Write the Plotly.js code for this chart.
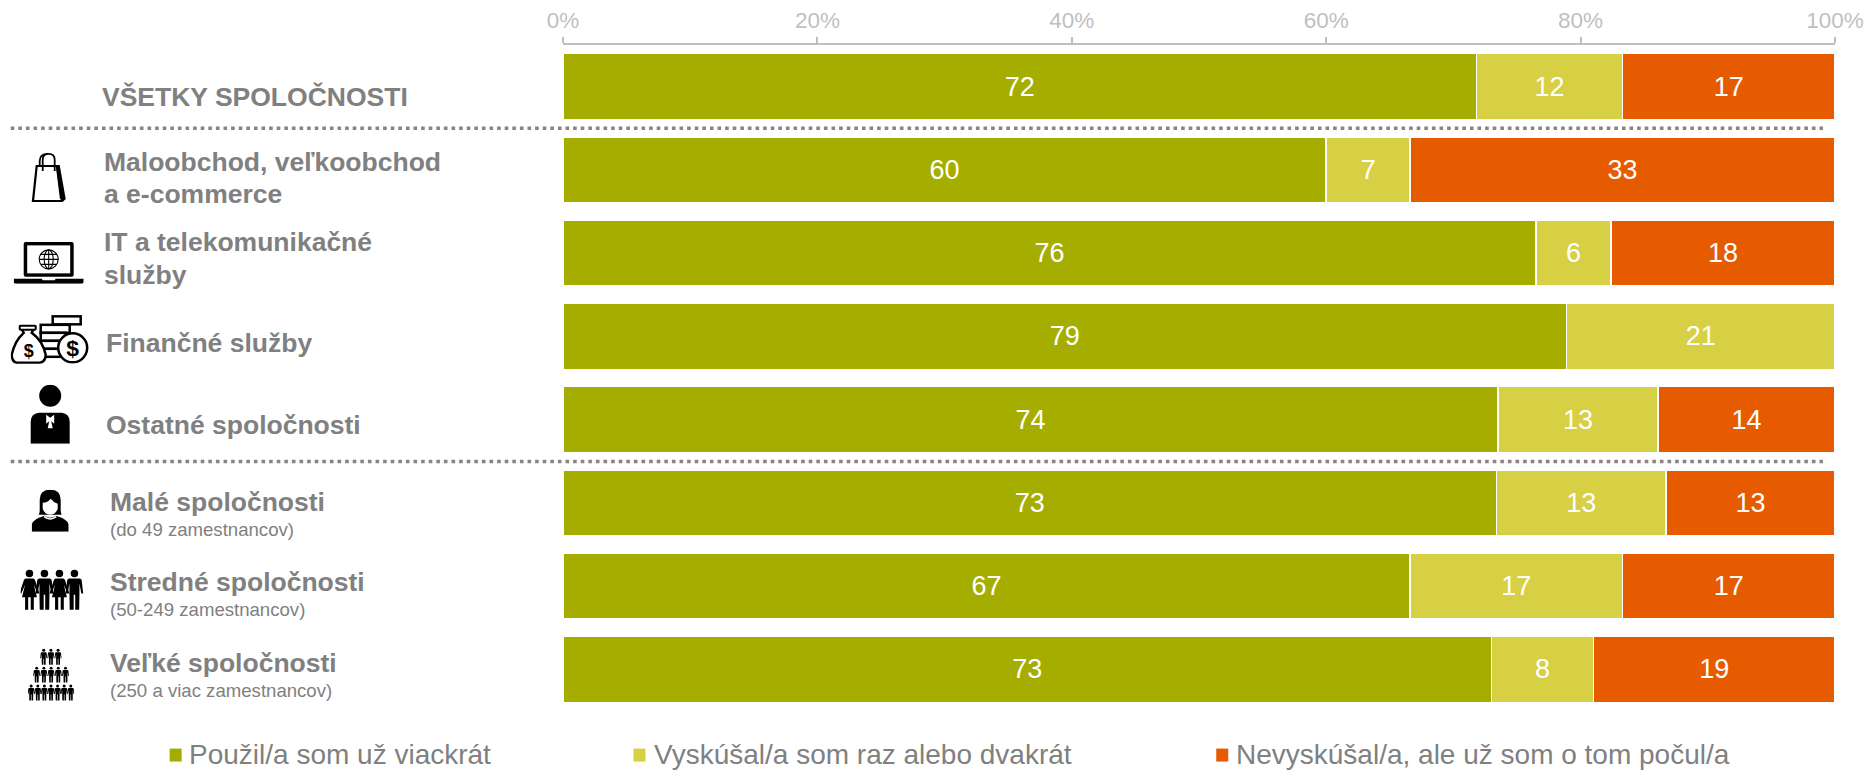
<!DOCTYPE html>
<html><head><meta charset="utf-8">
<script src="https://cdn.plot.ly/plotly-3.0.1.min.js"></script>
<style>html,body{margin:0;padding:0;background:#fff}#c{width:1868px;height:770px}</style>
</head><body><div id="c"></div>
<script>
const categories=['Všetky','Maloobchod','IT','Finančné','Ostatné','Malé','Stredné','Veľké'];
const seriesNames=['Použil/a som už viackrát','Vyskúšal/a som raz alebo dvakrát','Nevyskúšal/a, ale už som o tom počul/a'];
const colors=['#A5AD00','#D7CF44','#E65A00'];
const used=[71.8,60.0,76.5,78.9,73.5,73.4,66.6,73.0];
const tried=[11.5,6.6,5.9,21.1,12.6,13.3,16.7,8.0];
const heard=[16.7,33.4,17.6,null,13.9,13.3,16.7,19.0];
const usedLabels=['72','60','76','79','74','73','67','73'];
const triedLabels=['12','7','6','21','13','13','17','8'];
const heardLabels=['17','33','18','','14','13','17','19'];
const tickValues=[0,20,40,60,80,100];
const tickLabels=['0%','20%','40%','60%','80%','100%'];

const W=1868,H=770,L=562.5,R=33,T=45,B=58.6;
const pw=W-L-R,ph=H-T-B;
const px=x=>(x-L)/pw, py=y=>1-(y-T)/ph;
const GREY='#808080';

const rowTexts=[
 ['VŠETKY SPOLOČNOSTI',100,97,26.5,true],
 ['Maloobchod, veľkoobchod',102,162,26.5,true],
 ['a e-commerce',102,194,26.5,true],
 ['IT a telekomunikačné',102,242,26.5,true],
 ['služby',102,275,26.5,true],
 ['Finančné služby',104,343,26.5,true],
 ['Ostatné spoločnosti',104,425,26.5,true],
 ['Malé spoločnosti',108,502,26.5,true],
 ['(do 49 zamestnancov)',108,530,18.6,false],
 ['Stredné spoločnosti',108,582,26.5,true],
 ['(50-249 zamestnancov)',108,610,18.6,false],
 ['Veľké spoločnosti',108,663,26.5,true],
 ['(250 a viac zamestnancov)',108,691,18.6,false]
];
const legendX=[169,633,1216];
const legendTextX=[187,653,1235];

const trace=(vals,labels,i)=>({type:'bar',orientation:'h',name:seriesNames[i],y:categories,x:vals,
  text:labels,textposition:'inside',insidetextanchor:'middle',textangle:0,constraintext:'none',
  textfont:{family:'Liberation Sans, Arial, sans-serif',size:27,color:'#fff'},
  marker:{color:colors[i],line:{color:'#fff',width:1.5}},hoverinfo:'name+x'});
const data=[trace(used,usedLabels,0),trace(tried,triedLabels,1),trace(heard,heardLabels,2)];

const annotations=rowTexts.map(([t,x,y,s,b])=>({text:b?'<b>'+t+'</b>':t,xref:'paper',yref:'paper',x:px(x),y:py(y),
  xanchor:'left',yanchor:'middle',showarrow:false,align:'left',borderpad:0,
  font:{family:'Liberation Sans, Arial, sans-serif',size:s,color:GREY}}));
seriesNames.forEach((n,i)=>annotations.push({text:n,xref:'paper',yref:'paper',x:px(legendTextX[i]),y:py(755),
  xanchor:'left',yanchor:'middle',showarrow:false,borderpad:0,
  font:{family:'Liberation Sans, Arial, sans-serif',size:28,color:GREY}}));

const shapes=[128.3,461.7].map(y=>({type:'line',xref:'paper',yref:'paper',x0:px(10),x1:px(1823),y0:py(y),y1:py(y),
  line:{color:'#8C8280',width:3.4,dash:'3.6px,4px'}}));
legendX.forEach((x,i)=>shapes.push({type:'rect',xref:'paper',yref:'paper',x0:px(x),x1:px(x+12),y0:py(749),y1:py(762),
  fillcolor:colors[i],line:{width:0}}));

/* ---- decorative pictograms ---- */
const man=(x,y,s)=>`<g transform="translate(${x} ${y}) scale(${s})"><circle cx="5" cy="3" r="3"/><path d="M1 7h8q1.500 0 1.800 1.500L12 19h-1.500L9 11v8l-.2 13H5.600V20h-1.200v12H1.200L1 19V11L-.5 19H-2L-.8 8.500Q-.5 7 1 7z"/></g>`;
const lady=(x,y,s)=>`<g transform="translate(${x} ${y}) scale(${s})"><circle cx="5" cy="3" r="3"/><path d="M2 7h6q1 0 1.500 1.500L13 19h-1.500L8.500 12 11 22H8.500v10H6V22H4v10H1.500V22H-1l2.500-10L-1.500 19H-3L.5 8.500Q1 7 2 7z"/></g>`;
const svgs=[
 ['<svg xmlns="http://www.w3.org/2000/svg" viewBox="0 0 36 50"><path d="M5 12h24l6 34-3 3H1zM3.500 47h26.500l-4.500-33H7z" fill-rule="evenodd"/><path d="M26 14l4 32" stroke="#000" stroke-width="1.500"/><path d="M12 18V7q0-6 6-6t6 6v11M9 14V8q0-7 8-7" fill="none" stroke="#000" stroke-width="1.800"/></svg>',30,153,36,50],
 ['<svg xmlns="http://www.w3.org/2000/svg" viewBox="0 0 70 43"><rect x="10" y="1" width="50" height="35" rx="2"/><rect x="13.500" y="4.500" width="43" height="28" fill="#fff"/><g fill="none" stroke="#000" stroke-width="1.100"><circle cx="35" cy="18.500" r="9.500"/><ellipse cx="35" cy="18.500" rx="4.500" ry="9.500"/><path d="M35 9v19M25.500 18.500h19M27 13.500h16M27 23.500h16"/></g><path d="M0 38h28l1 1.500h12l1-1.500h28v3q0 2-2 2H2q-2 0-2-2z"/></svg>',13,241,70,43],
 ['<svg xmlns="http://www.w3.org/2000/svg" viewBox="0 0 79 49"><g fill="#fff" stroke="#000" stroke-width="2.500"><rect x="42" y="1.500" width="28" height="8"/><rect x="30" y="10" width="29" height="8"/><rect x="30" y="18" width="25" height="8"/><rect x="30" y="26" width="25" height="8"/><rect x="30" y="34" width="25" height="8"/><path d="M10 12h14l-3 6q11 8 14 22 0 7-6 8H6q-5-1-5-8 3-14 12-22z"/><circle cx="62" cy="33" r="14.500"/></g><rect x="9" y="11" width="16" height="4" rx="1" fill="#fff" stroke="#000" stroke-width="2"/><text x="18" y="42" font-family="Liberation Sans" font-size="18" font-weight="bold" text-anchor="middle">$</text><text x="62" y="41" font-family="Liberation Sans" font-size="23" font-weight="bold" text-anchor="middle">$</text></svg>',10,315,79,49],
 ['<svg xmlns="http://www.w3.org/2000/svg" viewBox="0 0 51 59"><circle cx="25.500" cy="11" r="11"/><path d="M14 28h23q8 1 8 9v22H6V37q0-8 8-9z"/><path d="M25.500 33l-4-3v9l3-2.500-1.500 7h5l-1.500-7 3 2.500v-9z" fill="#fff"/></svg>',24,385,51,59],
 ['<svg xmlns="http://www.w3.org/2000/svg" viewBox="0 0 37 42"><path d="M8 10q0-10 10.500-10T29 10v11q0 2 1 4H7q1-2 1-4z"/><path d="M11 13q5 0 8-4 3 4 7 5v5q-2 6-7.500 6T11 19z" fill="#fff"/><path d="M13 26q5.500 4 11 0 12 3 13 9v7H0v-7q1-6 13-9z"/><path d="M13 26q5.500 5 11 0l1 1.500q-6.500 5-13 0z" fill="#fff"/></svg>',31,490,37,42],
 ['<svg xmlns="http://www.w3.org/2000/svg" viewBox="-3 0 63 42" preserveAspectRatio="none">'+[0,1,2,3].map(i=>(i%2?man:lady)(i*15-.5,1,1.25)).join('')+'</svg>',20,569,63,42],
 ['<svg xmlns="http://www.w3.org/2000/svg" viewBox="0 0 47 53">'+
   [0,1,2].map(k=>man(13.500+k*7.200,0,.5)).join('')+
   [0,1,2,3,4].map(k=>man(6.500+k*7.200,18,.5)).join('')+
   [0,1,2,3,4,5,6].map(k=>man(1+k*6.600,36,.5)).join('')+'</svg>',27,649,47,53]
];
const images=svgs.map(([s,x,y,w,h])=>({source:'data:image/svg+xml;charset=utf-8,'+encodeURIComponent(s),
  xref:'paper',yref:'paper',x:px(x),y:py(y),sizex:w/pw,sizey:h/ph,sizing:'stretch',xanchor:'left',yanchor:'top',layer:'above'}));

const layout={width:W,height:H,margin:{l:L,r:R,t:T,b:B,pad:0},barmode:'stack',bargap:0.21,
  paper_bgcolor:'#fff',plot_bgcolor:'#fff',showlegend:false,
  font:{family:'Liberation Sans, Arial, sans-serif'},
  xaxis:{side:'top',range:[0,100],tickmode:'array',tickvals:tickValues,ticktext:tickLabels,
    ticks:'outside',ticklen:6,tickwidth:2,tickcolor:'#BFBFBF',showline:true,linecolor:'#BFBFBF',linewidth:2,
    showgrid:false,zeroline:false,tickfont:{size:22.5,color:'#BFBFBF',family:'Liberation Sans, Arial, sans-serif'}},
  yaxis:{type:'category',categoryorder:'array',categoryarray:categories,autorange:false,range:[7.5,-0.5],
    showticklabels:false,ticks:'',showgrid:false,zeroline:false,showline:false},
  annotations,shapes,images};
Plotly.newPlot('c',data,layout,{displayModeBar:false,responsive:false});
</script></body></html>
